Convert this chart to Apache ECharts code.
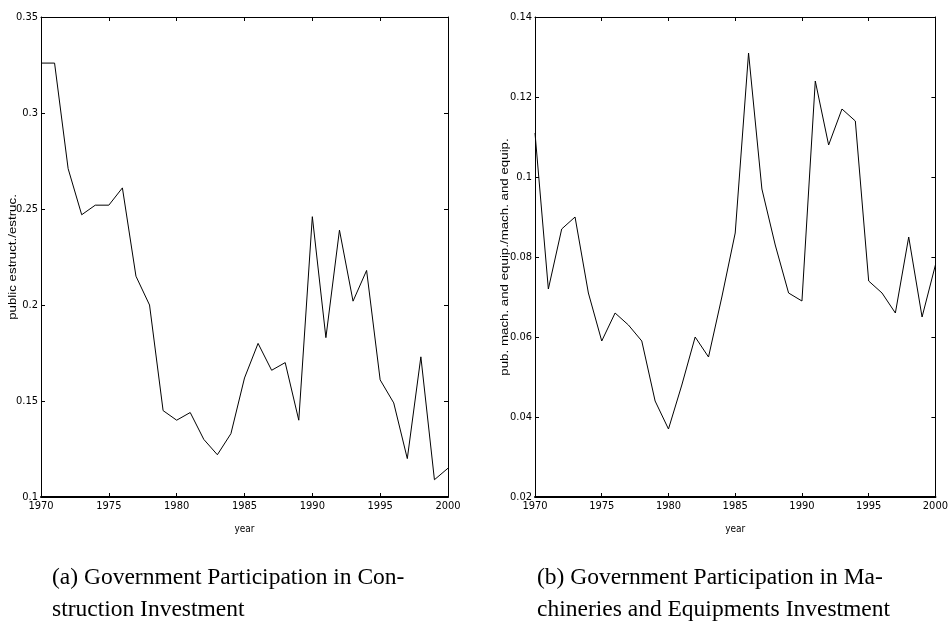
<!DOCTYPE html>
<html>
<head>
<meta charset="utf-8">
<script src="https://cdn.jsdelivr.net/npm/echarts@6/dist/echarts.min.js"></script>
<style>
  html, body { margin: 0; padding: 0; background: #fff; }
  #chart { width: 951px; height: 633px; }
</style>
</head>
<body>
<div id="chart"></div>
<script>
// Years of observation
const years = [1970, 1971, 1972, 1973, 1974, 1975, 1976, 1977, 1978, 1979,
               1980, 1981, 1982, 1983, 1984, 1985, 1986, 1987, 1988, 1989,
               1990, 1991, 1992, 1993, 1994, 1995, 1996, 1997, 1998, 1999, 2000];

// Public share of construction investment
const constructionShare = [0.326, 0.326, 0.271, 0.247, 0.252, 0.252, 0.261, 0.215, 0.200, 0.145,
                           0.140, 0.144, 0.130, 0.122, 0.133, 0.162, 0.180, 0.166, 0.170, 0.140,
                           0.246, 0.183, 0.239, 0.202, 0.218, 0.161, 0.149, 0.120, 0.173, 0.109, 0.115];

// Public share of machinery and equipment investment
const machineryShare = [0.111, 0.072, 0.087, 0.090, 0.071, 0.059, 0.066, 0.063, 0.059, 0.044,
                        0.037, 0.048, 0.060, 0.055, 0.070, 0.086, 0.131, 0.097, 0.083, 0.071,
                        0.069, 0.124, 0.108, 0.117, 0.114, 0.074, 0.071, 0.066, 0.085, 0.065, 0.078];

// Axis ranges and labels
const yearRange = [1970, 2000, 5];
const constructionRange = [0.1, 0.35, 0.05];
const machineryRange = [0.02, 0.14, 0.02];

const xName = 'year';
const constructionYName = 'public estruct./estruc.';
const machineryYName = 'pub. mach. and equip./mach. and equip.';
const captionA = ['(a) Government Participation in Con-', 'struction Investment'];
const captionB = ['(b) Government Participation in Ma-', 'chineries and Equipments Investment'];

const sansNarrow = "'Liberation Sans Narrow', 'DejaVu Sans Condensed', 'Liberation Sans', sans-serif";
const sans = "'Liberation Sans', Arial, sans-serif";
const serif = "'Liberation Serif', 'Times New Roman', serif";

const pairs = vals => years.map((y, i) => [y, vals[i]]);

function xAxes(gridIndex) {
  const base = {
    type: 'value', gridIndex,
    min: yearRange[0], max: yearRange[1], interval: yearRange[2],
    splitLine: { show: false },
    axisTick: { inside: true, length: 4, lineStyle: { color: '#000', width: 1 } }
  };
  return [
    Object.assign({}, base, {
      position: 'bottom',
      axisLine: { onZero: false, lineStyle: { color: '#000', width: 2 } },
      axisLabel: { color: '#000', fontFamily: sansNarrow, fontSize: 11, margin: 4,
                   formatter: v => String(v) },
      name: xName, nameLocation: 'middle', nameGap: 27,
      nameTextStyle: { color: '#000', fontFamily: sansNarrow, fontSize: 10 }
    }),
    Object.assign({}, base, {
      position: 'top',
      axisLine: { onZero: false, lineStyle: { color: '#000', width: 1 } },
      axisLabel: { show: false }
    })
  ];
}

function yAxes(gridIndex, range) {
  const base = {
    type: 'value', gridIndex,
    min: range[0], max: range[1], interval: range[2],
    splitLine: { show: false },
    axisTick: { inside: true, length: 4, lineStyle: { color: '#000', width: 1 } }
  };
  return [
    Object.assign({}, base, {
      position: 'left',
      axisLine: { onZero: false, lineStyle: { color: '#000', width: 1 } },
      axisLabel: { color: '#000', fontFamily: sansNarrow, fontSize: 11, margin: 3 }
    }),
    Object.assign({}, base, {
      position: 'right',
      axisLine: { onZero: false, lineStyle: { color: '#000', width: 1 } },
      axisLabel: { show: false }
    })
  ];
}

function yTitle(text, x) {
  return {
    type: 'text', x, y: 257, rotation: Math.PI / 2, scaleX: 1.33,
    style: { text, fill: '#000', font: '10px ' + sans, align: 'center', verticalAlign: 'middle' }
  };
}

function caption(lines, x) {
  return lines.map((t, i) => ({
    type: 'text', x, y: 578 + i * 32,
    style: { text: t, fill: '#000', font: '23.5px ' + serif, align: 'left', verticalAlign: 'middle' }
  }));
}

const chart = echarts.init(document.getElementById('chart'), null, { renderer: 'canvas' });

chart.setOption({
  animation: false,
  backgroundColor: '#fff',
  grid: [
    { left: 41, top: 17, width: 407, height: 480 },
    { left: 535, top: 17, width: 406, height: 480 }
  ],
  xAxis: xAxes(0).concat(xAxes(1)),
  yAxis: yAxes(0, constructionRange).concat(yAxes(1, machineryRange)),
  series: [
    {
      type: 'line', xAxisIndex: 0, yAxisIndex: 0,
      data: pairs(constructionShare), showSymbol: false,
      lineStyle: { color: '#000', width: 1 }
    },
    {
      type: 'line', xAxisIndex: 2, yAxisIndex: 2,
      data: pairs(machineryShare), showSymbol: false,
      lineStyle: { color: '#000', width: 1 }
    }
  ],
  graphic: [
    yTitle(constructionYName, 13),
    yTitle(machineryYName, 505)
  ].concat(caption(captionA, 52), caption(captionB, 537))
});
</script>
</body>
</html>
